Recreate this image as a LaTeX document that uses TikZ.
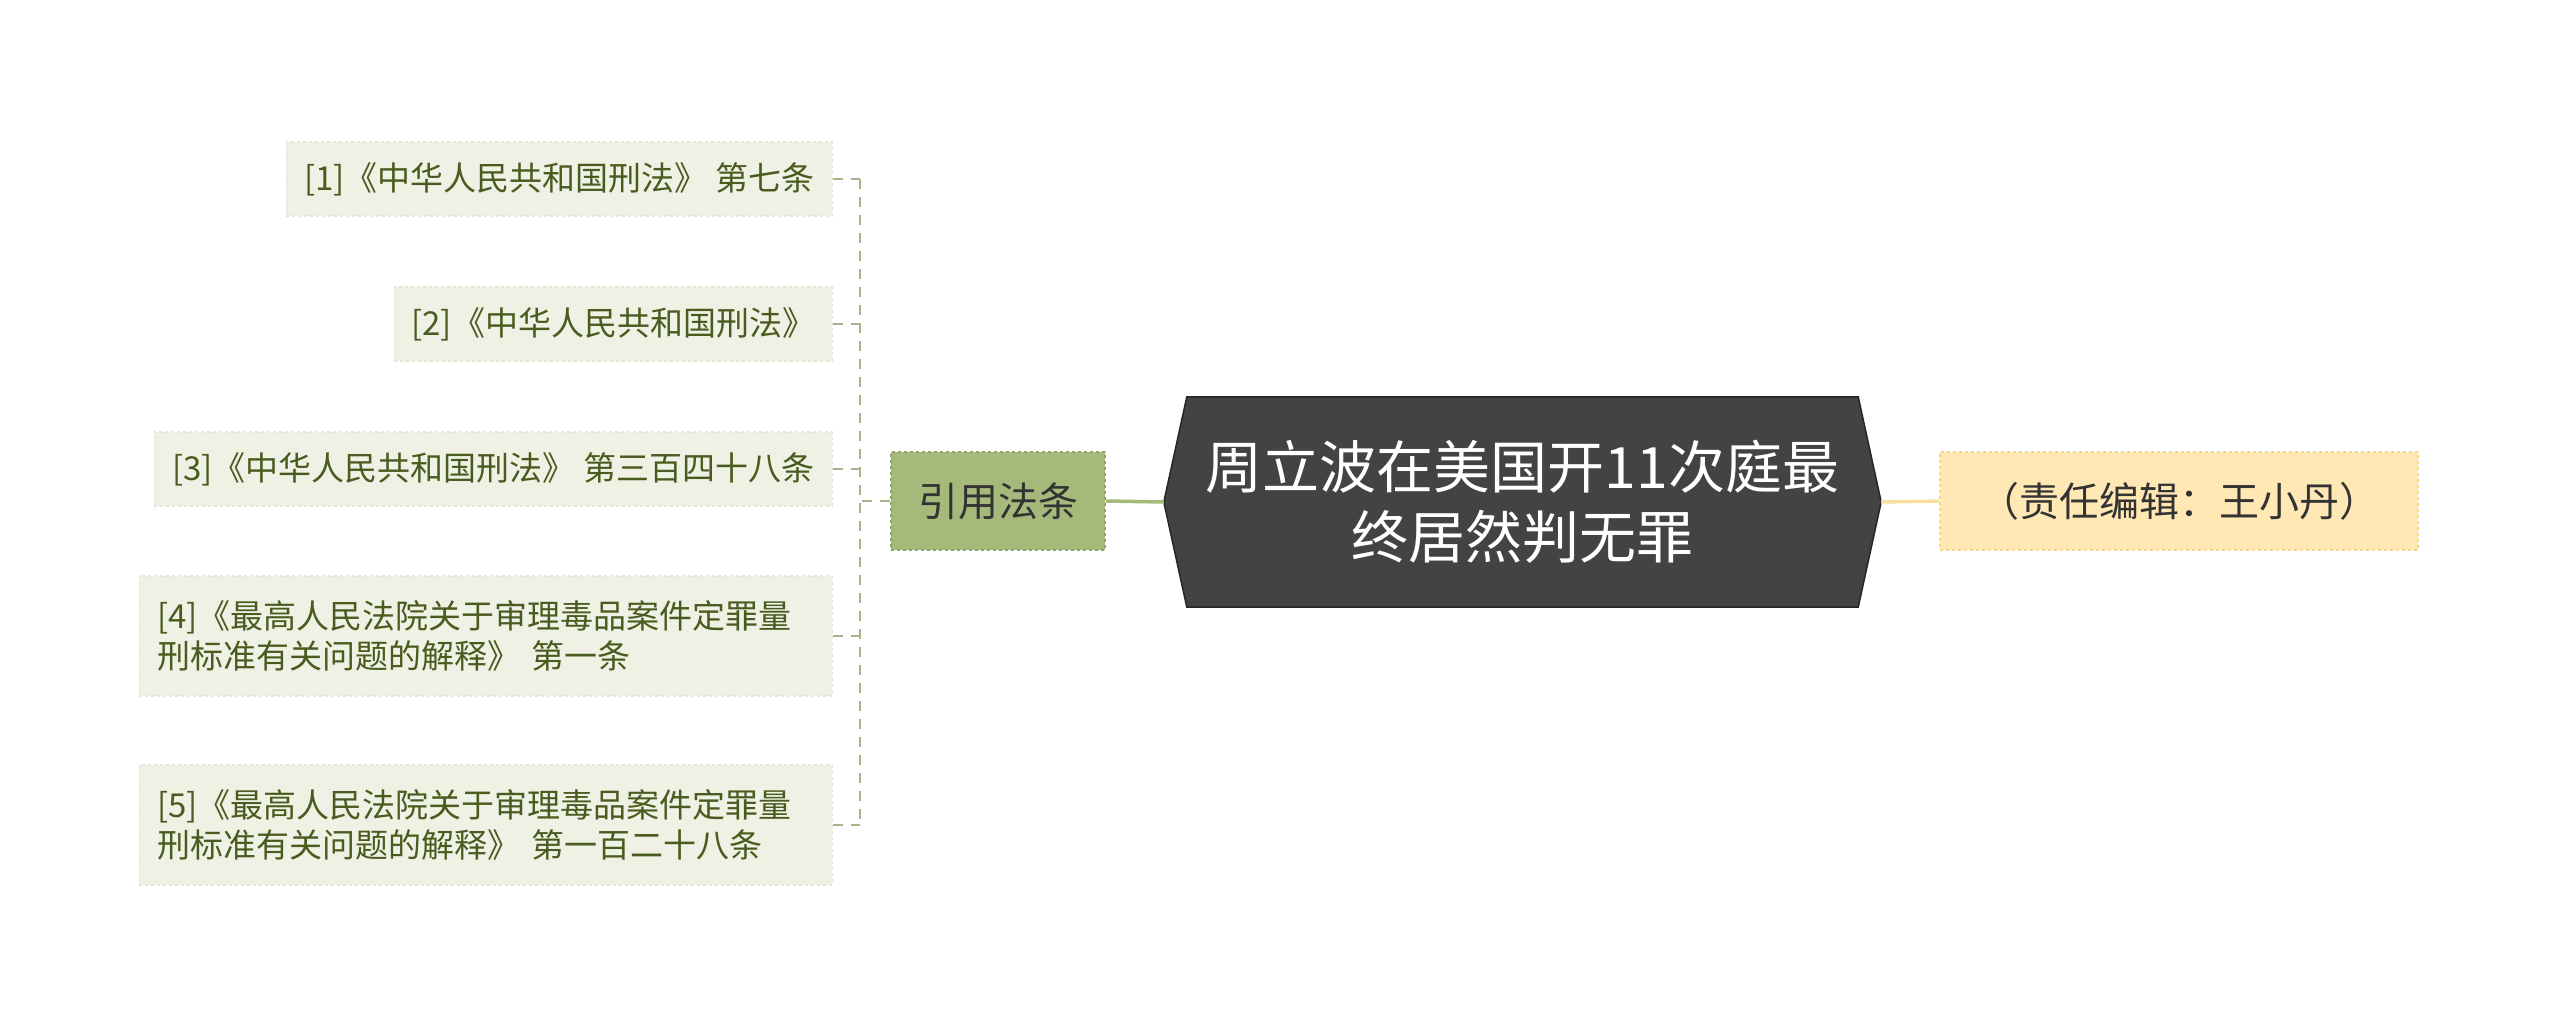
\documentclass[tikz,border=0pt]{standalone}
\usepackage{fontspec}
\setmainfont{Noto Sans CJK SC}
\usetikzlibrary{backgrounds}
\definecolor{leaffill}{HTML}{EEF1E4}
\definecolor{leafdraw}{HTML}{E2E7D3}
\definecolor{leaftext}{HTML}{4A5B1F}
\definecolor{midfill}{HTML}{A4B97A}
\definecolor{middraw}{HTML}{8EA566}
\definecolor{yelfill}{HTML}{FFE8B4}
\definecolor{yeldraw}{HTML}{F3D58E}
\definecolor{rootfill}{HTML}{434343}
\definecolor{greenline}{HTML}{A4B97A}
\definecolor{busline}{HTML}{A9B38C}
\definecolor{yelline}{HTML}{F7DFA0}
\begin{document}
\begin{tikzpicture}[x=1pt,y=-1pt,
  leaf/.style={rectangle, fill=leaffill, draw=leafdraw, dashed, line width=1.5pt,
    text=leaftext, font=\fontsize{33}{40}\selectfont, inner xsep=12pt, inner ysep=4pt,
    anchor=east, minimum height=74pt},
  leaftwo/.style={leaf, align=left, text width=657pt, inner xsep=18pt, minimum height=120pt},
  midbox/.style={rectangle, fill=midfill, draw=middraw, dashed, line width=2pt,
    text=black!80, font=\fontsize{40}{48}\selectfont, minimum width=214pt, minimum height=98pt, inner sep=2pt},
  yelbox/.style={rectangle, fill=yelfill, draw=yeldraw, dashed, line width=2pt,
    text=black!80, font=\fontsize{40}{48}\selectfont, minimum width=478pt, minimum height=98pt, inner sep=2pt},
  rootbox/.style={rectangle, text=white, align=center, font=\fontsize{57}{70}\selectfont,
    minimum width=717pt, minimum height=210pt, inner sep=0pt},
  bus/.style={draw=busline, dashed, line width=2pt, dash pattern=on 10pt off 8pt},
]
\useasboundingbox (0,0) rectangle (2560,1025);

\node[rootbox] (root) at (1522.5,502) {周立波在美国开11次庭最\\终居然判无罪};
\begin{scope}[on background layer]
\fill[white] (0,0) rectangle (2560,1025);
\fill[rootfill, draw=black!85, line width=1.5pt]
  (root.west) -- ([xshift=23pt]root.north west) -- ([xshift=-23pt]root.north east)
  -- (root.east) -- ([xshift=-23pt]root.south east) -- ([xshift=23pt]root.south west) -- cycle;
\end{scope}

\node[midbox] (ref) at (998,501) {引用法条};
\node[yelbox] (ed) at (2179,501) {（责任编辑：王小丹）};

\node[leaf, minimum width=546pt] (l1) at (833,179) {[1]《中华人民共和国刑法》 第七条};
\node[leaf, minimum width=438pt] (l2) at (833,324) {[2]《中华人民共和国刑法》};
\node[leaf, minimum width=678pt] (l3) at (833,469) {[3]《中华人民共和国刑法》 第三百四十八条};
\node[leaftwo] (l4) at (833,636) {[4]《最高人民法院关于审理毒品案件定罪量\\刑标准有关问题的解释》 第一条};
\node[leaftwo] (l5) at (833,825) {[5]《最高人民法院关于审理毒品案件定罪量\\刑标准有关问题的解释》 第一百二十八条};

\draw[draw=greenline, line width=3.5pt] (root.west) -- (ref.east);
\draw[draw=yelline, line width=3.5pt] (root.east) -- (ed.west);

\coordinate (b) at (860,501);
\draw[bus] (ref.west) -- (b);
\draw[bus] (b |- l1.east) -- (b |- l5.east);
\foreach \n in {l1,l2,l3,l4,l5}{
  \draw[bus] (\n.east) -- (b |- \n.east);
}
\end{tikzpicture}
\end{document}
